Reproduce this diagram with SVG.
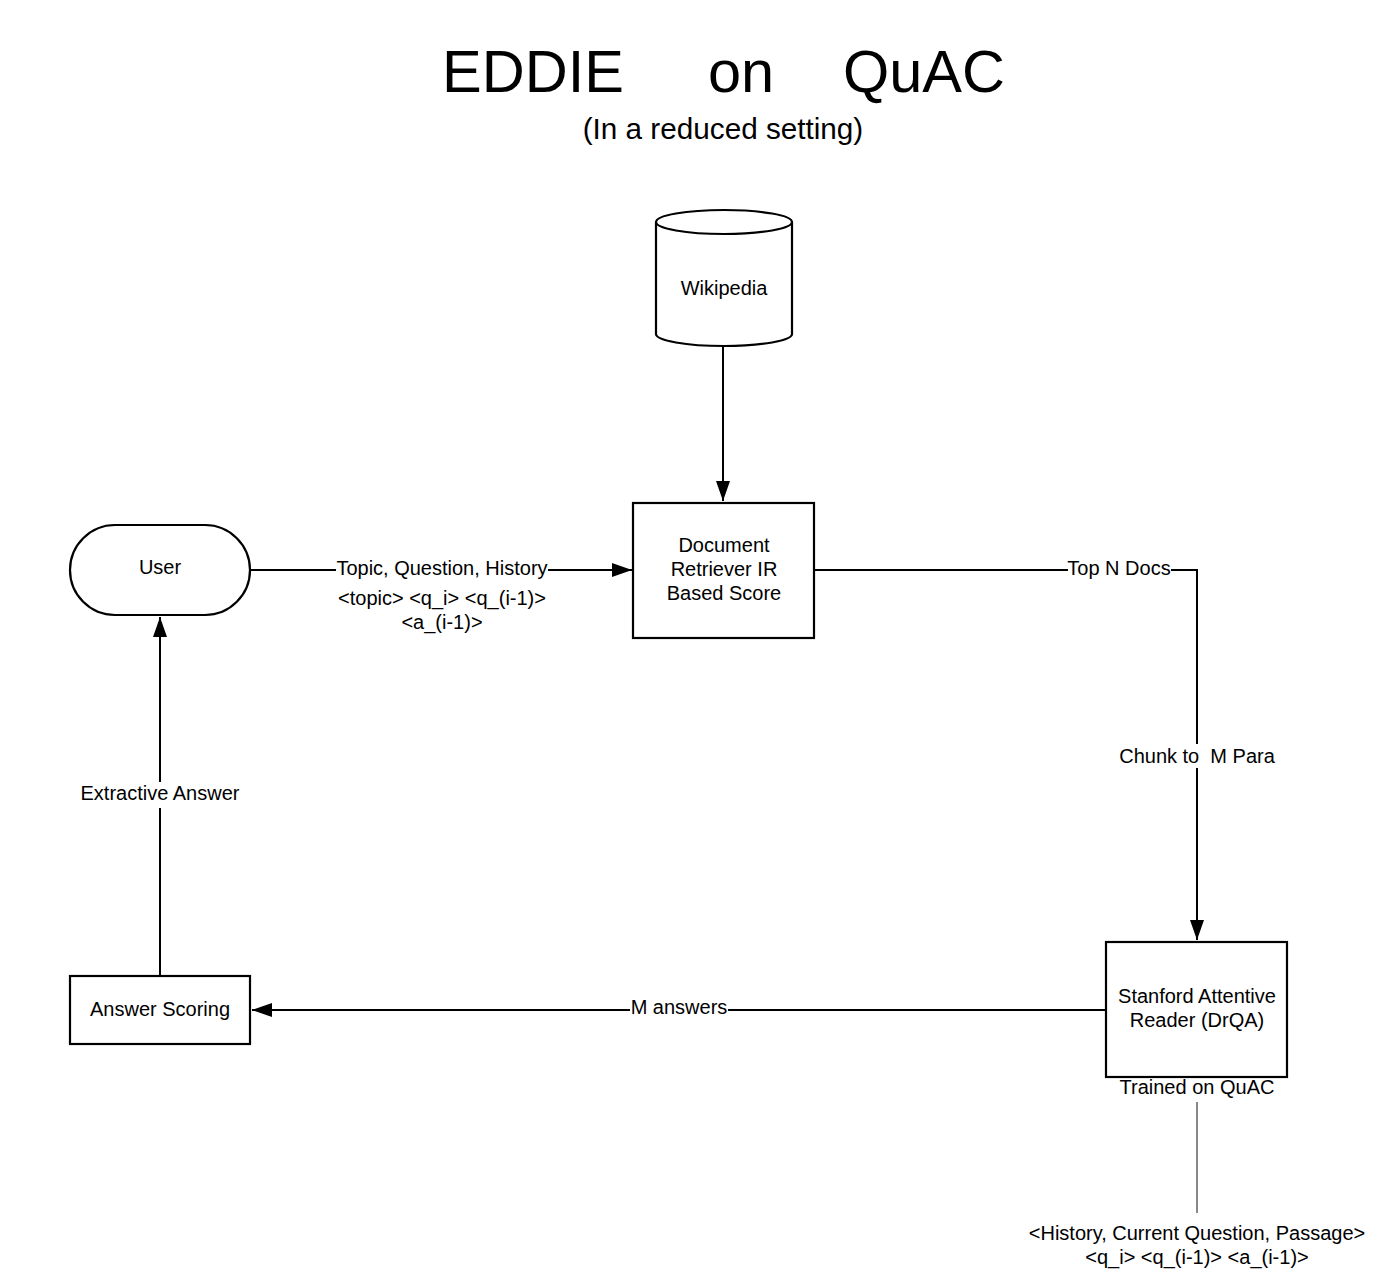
<svg xmlns="http://www.w3.org/2000/svg" width="1400" height="1288" viewBox="0 0 1400 1288">
<defs>
<style>
.t{font-family:"Liberation Sans",Arial,sans-serif;fill:#000;text-anchor:middle;}
.n{font-size:20px;}
.shape{fill:#fff;stroke:#000;stroke-width:2.2;}
.edge{fill:none;stroke:#000;stroke-width:2;}
.bg{fill:#fff;}
.pre{white-space:pre;}
</style>
<marker id="arrB" viewBox="0 0 20 14" refX="20" refY="7" markerWidth="20" markerHeight="14" markerUnits="userSpaceOnUse" orient="auto">
<path d="M0,0 L20,7 L0,14 Z" fill="#000"/>
</marker>
</defs>
<rect width="1400" height="1288" fill="#fff"/>

<g id="title">
<text class="t" x="533" y="92" style="font-size:59.5px">EDDIE</text>
<text class="t" x="741" y="92" style="font-size:59.5px">on</text>
<text class="t" x="924" y="92" style="font-size:59.5px">QuAC</text>
<text class="t" x="723" y="139" style="font-size:29.7px">(In a reduced setting)</text>
</g>

<g id="connectors">
<path class="edge" d="M723,345 L723,501" marker-end="url(#arrB)"/>
<path class="edge" d="M250,570 L632,570" marker-end="url(#arrB)"/>
<path class="edge" d="M814,570 L1197,570 L1197,940" marker-end="url(#arrB)"/>
<path class="edge" d="M1106,1010 L252,1010" marker-end="url(#arrB)"/>
<path class="edge" d="M160,976 L160,617" marker-end="url(#arrB)"/>
<path d="M1197,1102 L1197,1213" fill="none" stroke="#888" stroke-width="2"/>
<rect class="bg" x="336" y="560" width="212" height="20"/>
<text class="t n" x="442" y="575">Topic, Question, History</text>
<text class="t n" x="442" y="605">&lt;topic&gt; &lt;q_i&gt; &lt;q_(i-1)&gt;</text>
<text class="t n" x="442" y="629">&lt;a_(i-1)&gt;</text>
<rect class="bg" x="1068" y="560" width="103" height="20"/>
<text class="t n" x="1119" y="575">Top N Docs</text>
<rect class="bg" x="1117" y="744" width="160" height="24"/>
<text class="t n pre" x="1197" y="763">Chunk to  M Para</text>
<rect class="bg" x="630" y="1000" width="98" height="20"/>
<text class="t n" x="679" y="1014">M answers</text>
<rect class="bg" x="79" y="782" width="162" height="26"/>
<text class="t n" x="160" y="800">Extractive Answer</text>
</g>

<g id="wikipedia">
<path class="shape" d="M656,222 L656,334 A68,12 0 0 0 792,334 L792,222 A68,12 0 0 0 656,222 Z"/>
<path d="M656,222 A68,12 0 0 0 792,222" fill="none" stroke="#000" stroke-width="2.2"/>
<text class="t n" x="724" y="295">Wikipedia</text>
</g>

<g id="document-retriever">
<rect class="shape" x="633" y="503" width="181" height="135"/>
<text class="t n" x="724" y="552">Document</text>
<text class="t n" x="724" y="576">Retriever IR</text>
<text class="t n" x="724" y="600">Based Score</text>
</g>

<g id="user">
<rect class="shape" x="70" y="525" width="180" height="90" rx="45" ry="45"/>
<text class="t n" x="160" y="574">User</text>
</g>

<g id="stanford-reader">
<rect class="shape" x="1106" y="942" width="181" height="135"/>
<text class="t n" x="1197" y="1003">Stanford Attentive</text>
<text class="t n" x="1197" y="1027">Reader (DrQA)</text>
<text class="t n" x="1197" y="1094">Trained on QuAC</text>
</g>

<g id="answer-scoring">
<rect class="shape" x="70" y="976" width="180" height="68"/>
<text class="t n" x="160" y="1016">Answer Scoring</text>
</g>

<g id="input-format">
<text class="t n" x="1197" y="1240">&lt;History, Current Question, Passage&gt;</text>
<text class="t n" x="1197" y="1264">&lt;q_i&gt; &lt;q_(i-1)&gt; &lt;a_(i-1)&gt;</text>
</g>
</svg>
